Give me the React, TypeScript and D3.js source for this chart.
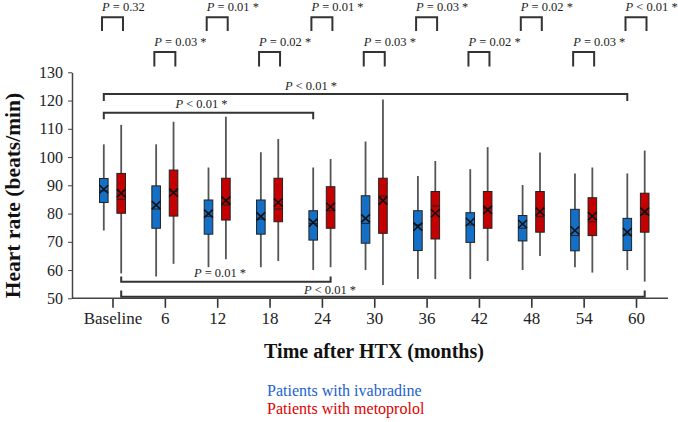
import React, { useEffect, useRef } from "react";
import * as d3 from "d3";

// time points after heart transplantation
const timepoints = ["Baseline", "6", "12", "18", "24", "30", "36", "42", "48", "54", "60"];

// ivabradine group (blue)
const ivaMin = [74, 57.7, 61, 61, 60, 60, 56.8, 56.8, 60, 61, 60];
const ivaQ1 = [83.9, 74.8, 72.7, 72.7, 70.6, 69.5, 66.9, 69.8, 70.3, 66.8, 66.9];
const ivaMedian = [88, 81.6, 79, 78, 76.5, 76.5, 76, 76, 74.8, 72.2, 72.4];
const ivaQ3 = [92.4, 89.8, 84.8, 84.8, 81, 86.3, 81, 80.3, 79.3, 81.5, 78.3];
const ivaMax = [104.5, 104.5, 96.3, 101.7, 96.3, 105.5, 93.3, 95.7, 90.1, 94.2, 94.2];
const ivaMean = [88.6, 83, 80, 79, 76.8, 78.3, 75.4, 77, 76.3, 74, 73.4];

// metoprolol group (red)
const metMin = [58.8, 62.2, 63.8, 63.2, 61, 54.7, 56.8, 63.2, 65, 59.1, 55.9];
const metQ1 = [80.1, 79.1, 77.7, 77.1, 74.8, 73, 71, 74.8, 73.4, 72.2, 73.4];
const metMedian = [85, 87.8, 83, 81.6, 81, 86.2, 82.7, 81.9, 78.9, 77.1, 79.7];
const metQ3 = [94.2, 95.4, 92.5, 92.5, 89.5, 92.5, 87.8, 87.8, 87.8, 85.6, 87.2];
const metMax = [111.4, 112.5, 114.3, 106.4, 99.3, 120.4, 98.6, 103.5, 101.6, 96.3, 102.3];
const metMean = [87.2, 87.4, 84.6, 83.9, 82.4, 84.6, 80.1, 81.3, 80.7, 79.1, 80.7];

// p values between the two groups at each time point
const pairP = ["= 0.32", "= 0.03 *", "= 0.01 *", "= 0.02 *", "= 0.01 *", "= 0.03 *", "= 0.03 *", "= 0.02 *", "= 0.02 *", "= 0.03 *", "< 0.01 *"];

// p values over time within a group
const trendFrom = ["Baseline", "Baseline", "Baseline", "Baseline"];
const trendTo = ["60", "24", "24", "60"];
const trendGroup = ["iva", "iva", "met", "met"];
const trendP = ["< 0.01 *", "< 0.01 *", "= 0.01 *", "< 0.01 *"];

const yTicks = [50, 60, 70, 80, 90, 100, 110, 120, 130];

const BLUE = "#1470c6";
const RED = "#c40000";
const FONT = "'Liberation Serif', 'Times New Roman', serif";

export default function App() {
  const ref = useRef<SVGSVGElement>(null);

  useEffect(() => {
    const svg = d3.select(ref.current);
    svg.selectAll("*").remove();

    const x = d3.scalePoint().domain(timepoints).range([112.5, 636]);
    const y = d3.scaleLinear().domain([50, 130]).range([298.3, 72.3]);
    const off = 8.7;
    const bw = 8.6;

    const pText = (g: any, px: number, py: number, rest: string, anchor: string) => {
      const t = g
        .append("text")
        .attr("x", px)
        .attr("y", py)
        .attr("font-family", FONT)
        .attr("font-size", 12.5)
        .attr("fill", "#222")
        .attr("text-anchor", anchor);
      t.append("tspan").attr("font-style", "italic").text("P");
      t.append("tspan").text(" " + rest);
    };

    // y axis
    const yAxis = svg
      .append("g")
      .attr("transform", "translate(72,0)")
      .call(d3.axisLeft(y).tickValues(yTicks).tickSize(4).tickSizeOuter(0).tickPadding(5));
    yAxis.attr("font-family", FONT);
    yAxis.select(".domain").attr("stroke", "#444").attr("stroke-width", 1.5);
    yAxis.selectAll(".tick line").attr("stroke", "#444");
    yAxis
      .selectAll("text")
      .attr("font-family", FONT)
      .attr("font-size", 16)
      .attr("fill", "#222");

    // x axis
    const xAxis = svg
      .append("g")
      .attr("transform", "translate(0,298.3)")
      .call(d3.axisBottom(x).tickSize(9.5).tickSizeOuter(0).tickPadding(4));
    xAxis.attr("font-family", FONT);
    xAxis.select(".domain").remove();
    xAxis.selectAll(".tick line").attr("stroke", "#333").attr("stroke-width", 1.6);
    xAxis
      .selectAll("text")
      .attr("font-family", FONT)
      .attr("font-size", 17)
      .attr("fill", "#222");
    svg
      .append("line")
      .attr("x1", 72)
      .attr("x2", 668)
      .attr("y1", 298.3)
      .attr("y2", 298.3)
      .attr("stroke", "#444")
      .attr("stroke-width", 1.5);

    // boxes
    const groups = [
      { dx: -off, fill: BLUE, min: ivaMin, q1: ivaQ1, med: ivaMedian, q3: ivaQ3, max: ivaMax, mean: ivaMean },
      { dx: off, fill: RED, min: metMin, q1: metQ1, med: metMedian, q3: metQ3, max: metMax, mean: metMean },
    ];
    groups.forEach((gr) => {
      const g = svg.append("g");
      timepoints.forEach((t, i) => {
        const cx = (x(t) as number) + gr.dx;
        g.append("line")
          .attr("x1", cx)
          .attr("x2", cx)
          .attr("y1", y(gr.max[i]))
          .attr("y2", y(gr.min[i]))
          .attr("stroke", "#555")
          .attr("stroke-width", 1.8);
        g.append("rect")
          .attr("x", cx - bw / 2)
          .attr("y", y(gr.q3[i]))
          .attr("width", bw)
          .attr("height", y(gr.q1[i]) - y(gr.q3[i]))
          .attr("fill", gr.fill)
          .attr("stroke", "#222")
          .attr("stroke-width", 1);
        g.append("line")
          .attr("x1", cx - bw / 2)
          .attr("x2", cx + bw / 2)
          .attr("y1", y(gr.med[i]))
          .attr("y2", y(gr.med[i]))
          .attr("stroke", "#222")
          .attr("stroke-width", 1);
        const my = y(gr.mean[i]);
        const h = 4;
        g.append("path")
          .attr("d", `M${cx - bw / 2},${my - h}L${cx + bw / 2},${my + h}M${cx - bw / 2},${my + h}L${cx + bw / 2},${my - h}`)
          .attr("stroke", "#111")
          .attr("stroke-width", 1.6)
          .attr("fill", "none");
      });
    });

    // pairwise brackets at the top
    const top = svg.append("g");
    timepoints.forEach((t, i) => {
      const row = i % 2;
      const y0 = row === 0 ? 17.3 : 52;
      const y1 = row === 0 ? 31 : 66.5;
      const x0 = (x(t) as number) - 10.5;
      const x1 = (x(t) as number) + 10.5;
      top
        .append("path")
        .attr("d", `M${x0},${y1}V${y0}H${x1}V${y1}`)
        .attr("fill", "none")
        .attr("stroke", "#333")
        .attr("stroke-width", 2);
      pText(top, x0, y0 - 6, pairP[i], "start");
    });

    // trend brackets inside the plot
    const bracketY = [94, 112.7, 281.7, 296.7];
    const legY = [101, 119.3, 276.5, 290.5];
    const labelX = [311, 201.5, 220, 330];
    const labelY = [90, 108.3, 277, 294];
    const br = svg.append("g");
    trendP.forEach((p, i) => {
      const dx = trendGroup[i] === "iva" ? -off : off;
      const x0 = (x(trendFrom[i]) as number) + dx;
      const x1 = (x(trendTo[i]) as number) + dx;
      br.append("path")
        .attr("d", `M${x0},${legY[i]}V${bracketY[i]}H${x1}V${legY[i]}`)
        .attr("fill", "none")
        .attr("stroke", "#333")
        .attr("stroke-width", 2);
      pText(br, labelX[i], labelY[i], p, "middle");
    });

    // axis titles
    svg
      .append("text")
      .attr("transform", "translate(19.5,195.5) rotate(-90)")
      .attr("text-anchor", "middle")
      .attr("font-family", FONT)
      .attr("font-weight", "bold")
      .attr("font-size", 21.5)
      .attr("fill", "#111")
      .text("Heart rate (beats/min)");
    svg
      .append("text")
      .attr("x", 374)
      .attr("y", 358.3)
      .attr("text-anchor", "middle")
      .attr("font-family", FONT)
      .attr("font-weight", "bold")
      .attr("font-size", 20)
      .attr("fill", "#111")
      .text("Time after HTX (months)");

    // legend
    svg
      .append("text")
      .attr("x", 267)
      .attr("y", 395.5)
      .attr("font-family", FONT)
      .attr("font-size", 16)
      .attr("fill", "#1a5fd0")
      .text("Patients with ivabradine");
    svg
      .append("text")
      .attr("x", 267)
      .attr("y", 413.5)
      .attr("font-family", FONT)
      .attr("font-size", 16)
      .attr("fill", "#e00000")
      .text("Patients with metoprolol");
  }, []);

  return (
    <svg
      ref={ref}
      width={678}
      height={422}
      style={{ position: "absolute", left: 0, top: 0, background: "#fff" }}
    />
  );
}
